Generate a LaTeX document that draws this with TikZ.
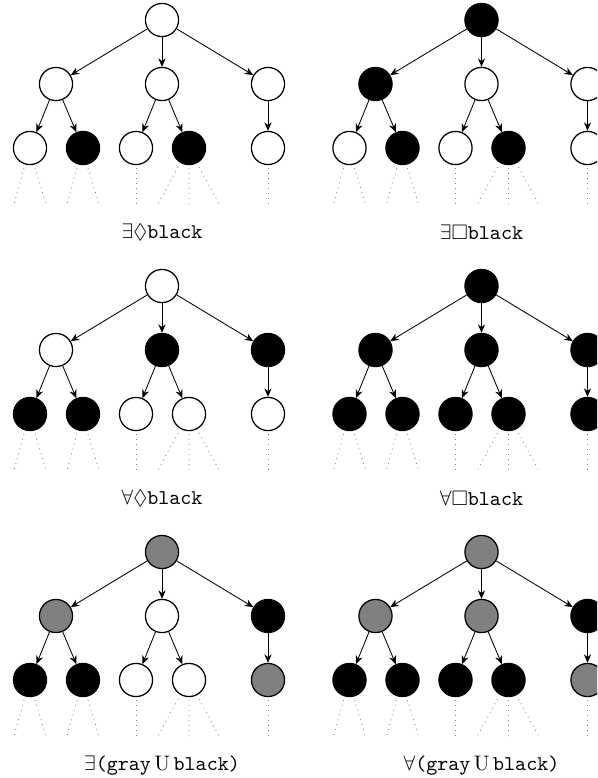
\documentclass[tikz,border=0pt]{standalone}
\usepackage{tikz}
\usepackage{amsmath}
\usepackage{amssymb}
\usepackage{xcolor}
\usetikzlibrary{arrows.meta}

\tikzset{
  state/.style={circle,draw,semithick,minimum size=15.8pt,inner sep=0pt},
  wnode/.style={state,fill=white},
  bnode/.style={state,fill=black},
  gnode/.style={state,fill=gray},
  stub/.style={draw=gray,dotted},
  formula/.style={inner sep=1pt}
}

\begin{document}
\begin{tikzpicture}[x={(0.4762pt,0pt)},y={(0pt,-0.4762pt)},>={Stealth[length=4pt,width=3.4pt,inset=1.3pt]}]
\path[use as bounding box,clip] (0,0) rectangle (597,778);
% E diamond black
\begin{scope}
\node[wnode] (ea) at (162,20) {};
\node[wnode] (ea1) at (56,84) {};
\node[wnode] (ea2) at (162,84) {};
\node[wnode] (ea3) at (268,84) {};
\node[wnode] (ea11) at (30,148) {};
\node[bnode] (ea12) at (83,148) {};
\node[wnode] (ea21) at (136,148) {};
\node[bnode] (ea22) at (189,148) {};
\node[wnode] (ea31) at (268,148) {};
\draw[->] (ea) edge (ea1) edge (ea2) edge (ea3) (ea1) edge (ea11) edge (ea12) (ea2) edge (ea21) edge (ea22) (ea3) edge (ea31);
\draw[stub] (ea11) ++(-6,20) -- ++(-10,36) (ea11) ++(5,20) -- ++(11,36);
\draw[stub] (ea12) ++(-6,20) -- ++(-10,36) (ea12) ++(5,20) -- ++(11,36);
\draw[stub] (ea21) ++(0,20) -- ++(0,36);
\draw[stub] (ea22) ++(-11,19) -- ++(-20,37) (ea22) ++(0,20) -- ++(0,36) (ea22) ++(10,19) -- ++(20,37);
\draw[stub] (ea31) ++(0,20) -- ++(0,36);
\node[formula] (lea) at (162,232) {$\exists\Diamond$\texttt{black}};
\end{scope}
% E box black
\begin{scope}[shift={(319.5,0)}]
\node[bnode] (eb) at (162,20) {};
\node[bnode] (eb1) at (56,84) {};
\node[wnode] (eb2) at (162,84) {};
\node[wnode] (eb3) at (268,84) {};
\node[wnode] (eb11) at (30,148) {};
\node[bnode] (eb12) at (83,148) {};
\node[wnode] (eb21) at (136,148) {};
\node[bnode] (eb22) at (189,148) {};
\node[wnode] (eb31) at (268,148) {};
\draw[->] (eb) edge (eb1) edge (eb2) edge (eb3) (eb1) edge (eb11) edge (eb12) (eb2) edge (eb21) edge (eb22) (eb3) edge (eb31);
\draw[stub] (eb11) ++(-6,20) -- ++(-10,36) (eb11) ++(5,20) -- ++(11,36);
\draw[stub] (eb12) ++(-6,20) -- ++(-10,36) (eb12) ++(5,20) -- ++(11,36);
\draw[stub] (eb21) ++(0,20) -- ++(0,36);
\draw[stub] (eb22) ++(-11,19) -- ++(-20,37) (eb22) ++(0,20) -- ++(0,36) (eb22) ++(10,19) -- ++(20,37);
\draw[stub] (eb31) ++(0,20) -- ++(0,36);
\node[formula] (leb) at (162,232) {$\exists\Box$\texttt{black}};
\end{scope}
% A diamond black
\begin{scope}[shift={(0,266)}]
\node[wnode] (aa) at (162,20) {};
\node[wnode] (aa1) at (56,84) {};
\node[bnode] (aa2) at (162,84) {};
\node[bnode] (aa3) at (268,84) {};
\node[bnode] (aa11) at (30,148) {};
\node[bnode] (aa12) at (83,148) {};
\node[wnode] (aa21) at (136,148) {};
\node[wnode] (aa22) at (189,148) {};
\node[wnode] (aa31) at (268,148) {};
\draw[->] (aa) edge (aa1) edge (aa2) edge (aa3) (aa1) edge (aa11) edge (aa12) (aa2) edge (aa21) edge (aa22) (aa3) edge (aa31);
\draw[stub] (aa11) ++(-6,20) -- ++(-10,36) (aa11) ++(5,20) -- ++(11,36);
\draw[stub] (aa12) ++(-6,20) -- ++(-10,36) (aa12) ++(5,20) -- ++(11,36);
\draw[stub] (aa21) ++(0,20) -- ++(0,36);
\draw[stub] (aa22) ++(-11,19) -- ++(-20,37) (aa22) ++(0,20) -- ++(0,36) (aa22) ++(10,19) -- ++(20,37);
\draw[stub] (aa31) ++(0,20) -- ++(0,36);
\node[formula] (laa) at (162,232) {$\forall\Diamond$\texttt{black}};
\end{scope}
% A box black
\begin{scope}[shift={(319.5,266)}]
\node[bnode] (ab) at (162,20) {};
\node[bnode] (ab1) at (56,84) {};
\node[bnode] (ab2) at (162,84) {};
\node[bnode] (ab3) at (268,84) {};
\node[bnode] (ab11) at (30,148) {};
\node[bnode] (ab12) at (83,148) {};
\node[bnode] (ab21) at (136,148) {};
\node[bnode] (ab22) at (189,148) {};
\node[bnode] (ab31) at (268,148) {};
\draw[->] (ab) edge (ab1) edge (ab2) edge (ab3) (ab1) edge (ab11) edge (ab12) (ab2) edge (ab21) edge (ab22) (ab3) edge (ab31);
\draw[stub] (ab11) ++(-6,20) -- ++(-10,36) (ab11) ++(5,20) -- ++(11,36);
\draw[stub] (ab12) ++(-6,20) -- ++(-10,36) (ab12) ++(5,20) -- ++(11,36);
\draw[stub] (ab21) ++(0,20) -- ++(0,36);
\draw[stub] (ab22) ++(-11,19) -- ++(-20,37) (ab22) ++(0,20) -- ++(0,36) (ab22) ++(10,19) -- ++(20,37);
\draw[stub] (ab31) ++(0,20) -- ++(0,36);
\node[formula] (lab) at (162,232) {$\forall\Box$\texttt{black}};
\end{scope}
% E gray until black
\begin{scope}[shift={(0,532)}]
\node[gnode] (eu) at (162,20) {};
\node[gnode] (eu1) at (56,84) {};
\node[wnode] (eu2) at (162,84) {};
\node[bnode] (eu3) at (268,84) {};
\node[bnode] (eu11) at (30,148) {};
\node[bnode] (eu12) at (83,148) {};
\node[wnode] (eu21) at (136,148) {};
\node[wnode] (eu22) at (189,148) {};
\node[gnode] (eu31) at (268,148) {};
\draw[->] (eu) edge (eu1) edge (eu2) edge (eu3) (eu1) edge (eu11) edge (eu12) (eu2) edge (eu21) edge (eu22) (eu3) edge (eu31);
\draw[stub] (eu11) ++(-6,20) -- ++(-10,36) (eu11) ++(5,20) -- ++(11,36);
\draw[stub] (eu12) ++(-6,20) -- ++(-10,36) (eu12) ++(5,20) -- ++(11,36);
\draw[stub] (eu21) ++(0,20) -- ++(0,36);
\draw[stub] (eu22) ++(-11,19) -- ++(-20,37) (eu22) ++(0,20) -- ++(0,36) (eu22) ++(10,19) -- ++(20,37);
\draw[stub] (eu31) ++(0,20) -- ++(0,36);
\node[formula] (leu) at (162,234) {$\exists$\texttt{(gray}\,U\,\texttt{black)}};
\end{scope}
% A gray until black
\begin{scope}[shift={(319.5,532)}]
\node[gnode] (au) at (162,20) {};
\node[gnode] (au1) at (56,84) {};
\node[gnode] (au2) at (162,84) {};
\node[bnode] (au3) at (268,84) {};
\node[bnode] (au11) at (30,148) {};
\node[bnode] (au12) at (83,148) {};
\node[bnode] (au21) at (136,148) {};
\node[bnode] (au22) at (189,148) {};
\node[gnode] (au31) at (268,148) {};
\draw[->] (au) edge (au1) edge (au2) edge (au3) (au1) edge (au11) edge (au12) (au2) edge (au21) edge (au22) (au3) edge (au31);
\draw[stub] (au11) ++(-6,20) -- ++(-10,36) (au11) ++(5,20) -- ++(11,36);
\draw[stub] (au12) ++(-6,20) -- ++(-10,36) (au12) ++(5,20) -- ++(11,36);
\draw[stub] (au21) ++(0,20) -- ++(0,36);
\draw[stub] (au22) ++(-11,19) -- ++(-20,37) (au22) ++(0,20) -- ++(0,36) (au22) ++(10,19) -- ++(20,37);
\draw[stub] (au31) ++(0,20) -- ++(0,36);
\node[formula] (lau) at (162,234) {$\forall$\texttt{(gray}\,U\,\texttt{black)}};
\end{scope}
\end{tikzpicture}
\end{document}
